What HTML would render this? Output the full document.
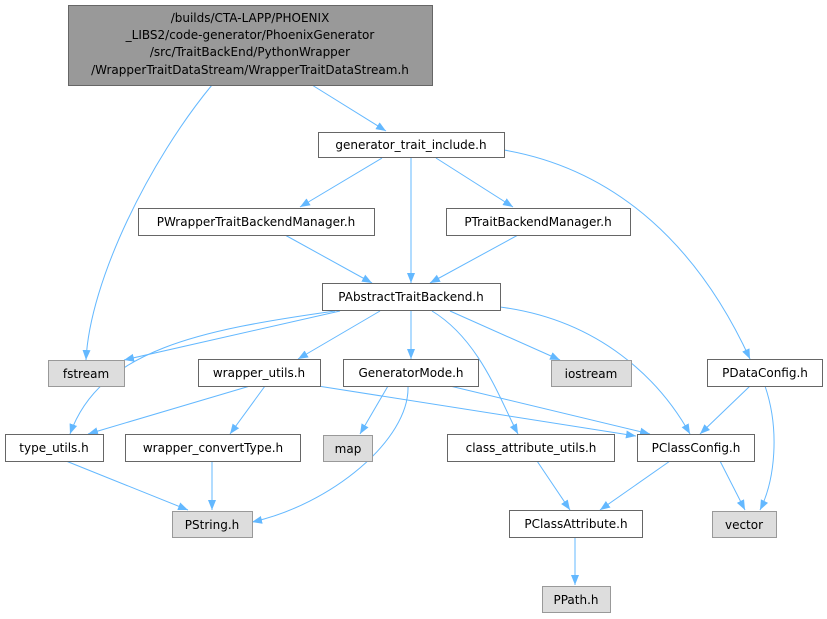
<!DOCTYPE html>
<html><head><style>html,body{margin:0;padding:0;background:#fff}svg{display:block}</style></head><body>
<svg width="827" height="619" viewBox="0 0 827 619" xmlns="http://www.w3.org/2000/svg" font-family="DejaVu Sans, sans-serif" font-size="12">
<defs><marker id="a" viewBox="0 0 10 10" refX="10" refY="5" markerWidth="10" markerHeight="10" markerUnits="userSpaceOnUse" orient="auto"><path d="M0,1 L10,5 L0,9 z" fill="#63b8ff"/></marker></defs>
<g stroke="#63b8ff" fill="none" stroke-width="1" marker-end="url(#a)">
<path d="M212,85 C150,160 90,280 86,360"/>
<path d="M312,85 L386,131"/>
<path d="M382,158 L300,207"/>
<path d="M411,158 L411,283"/>
<path d="M436,158 L513,207"/>
<path d="M504,150 C620,170 700,250 750,359"/>
<path d="M285,235 L372,283"/>
<path d="M518,235 L430,283"/>
<path d="M340,311 L124,360"/>
<path d="M335,311 C200,330 100,350 70,434"/>
<path d="M380,311 L298,359"/>
<path d="M411,311 L411,359"/>
<path d="M432,311 C480,340 500,400 518,434"/>
<path d="M450,311 L560,360"/>
<path d="M500,307 C600,320 660,380 690,434"/>
<path d="M408,386 C410,440 330,505 252,522"/>
<path d="M388,386 L360,434"/>
<path d="M450,386 L650,434"/>
<path d="M250,386 L88,434"/>
<path d="M265,386 L230,434"/>
<path d="M318,386 L636,436"/>
<path d="M212,461 L212,510"/>
<path d="M66,461 L188,510"/>
<path d="M537,461 L570,510"/>
<path d="M670,461 L600,510"/>
<path d="M720,461 L745,510"/>
<path d="M750,386 L700,434"/>
<path d="M765,386 C780,430 775,480 760,510"/>
<path d="M575,537 L575,585"/>
</g>
<g stroke="#666" stroke-width="1">
<rect x="68.5" y="5.5" width="364" height="80" fill="#999"/>
<rect x="318.5" y="132.5" width="186" height="25" fill="#fff"/>
<rect x="138.5" y="208.5" width="236" height="27" fill="#fff"/>
<rect x="446.5" y="208.5" width="184" height="27" fill="#fff"/>
<rect x="322.5" y="283.5" width="178" height="27" fill="#fff"/>
<rect x="48.5" y="360.5" width="76" height="26" fill="#ddd" stroke="#999"/>
<rect x="198.5" y="359.5" width="122" height="27" fill="#fff"/>
<rect x="343.5" y="359.5" width="135" height="27" fill="#fff"/>
<rect x="551.5" y="360.5" width="80" height="26" fill="#ddd" stroke="#999"/>
<rect x="707.5" y="359.5" width="115" height="27" fill="#fff"/>
<rect x="5.5" y="434.5" width="98" height="27" fill="#fff"/>
<rect x="125.5" y="434.5" width="175" height="27" fill="#fff"/>
<rect x="323.5" y="435.5" width="49" height="26" fill="#ddd" stroke="#999"/>
<rect x="447.5" y="434.5" width="167" height="27" fill="#fff"/>
<rect x="637.5" y="434.5" width="117" height="27" fill="#fff"/>
<rect x="172.5" y="511.5" width="80" height="26" fill="#ddd" stroke="#999"/>
<rect x="509.5" y="510.5" width="133" height="27" fill="#fff"/>
<rect x="712.5" y="511.5" width="64" height="26" fill="#ddd" stroke="#999"/>
<rect x="542.5" y="586.5" width="68" height="26" fill="#ddd" stroke="#999"/>
</g>
<g fill="#000" text-anchor="middle">
<text x="250" y="22">/builds/CTA-LAPP/PHOENIX</text>
<text x="250" y="39">_LIBS2/code-generator/PhoenixGenerator</text>
<text x="250" y="56">/src/TraitBackEnd/PythonWrapper</text>
<text x="250" y="74">/WrapperTraitDataStream/WrapperTraitDataStream.h</text>
<text x="411" y="149">generator_trait_include.h</text>
<text x="256" y="226">PWrapperTraitBackendManager.h</text>
<text x="538" y="226">PTraitBackendManager.h</text>
<text x="411" y="301">PAbstractTraitBackend.h</text>
<text x="86" y="378">fstream</text>
<text x="259" y="377">wrapper_utils.h</text>
<text x="411" y="377">GeneratorMode.h</text>
<text x="591" y="378">iostream</text>
<text x="765" y="377">PDataConfig.h</text>
<text x="54" y="452">type_utils.h</text>
<text x="213" y="452">wrapper_convertType.h</text>
<text x="348" y="453">map</text>
<text x="531" y="452">class_attribute_utils.h</text>
<text x="696" y="452">PClassConfig.h</text>
<text x="212" y="529">PString.h</text>
<text x="576" y="528">PClassAttribute.h</text>
<text x="744" y="529">vector</text>
<text x="576" y="604">PPath.h</text>
</g>
</svg>
</body></html>
